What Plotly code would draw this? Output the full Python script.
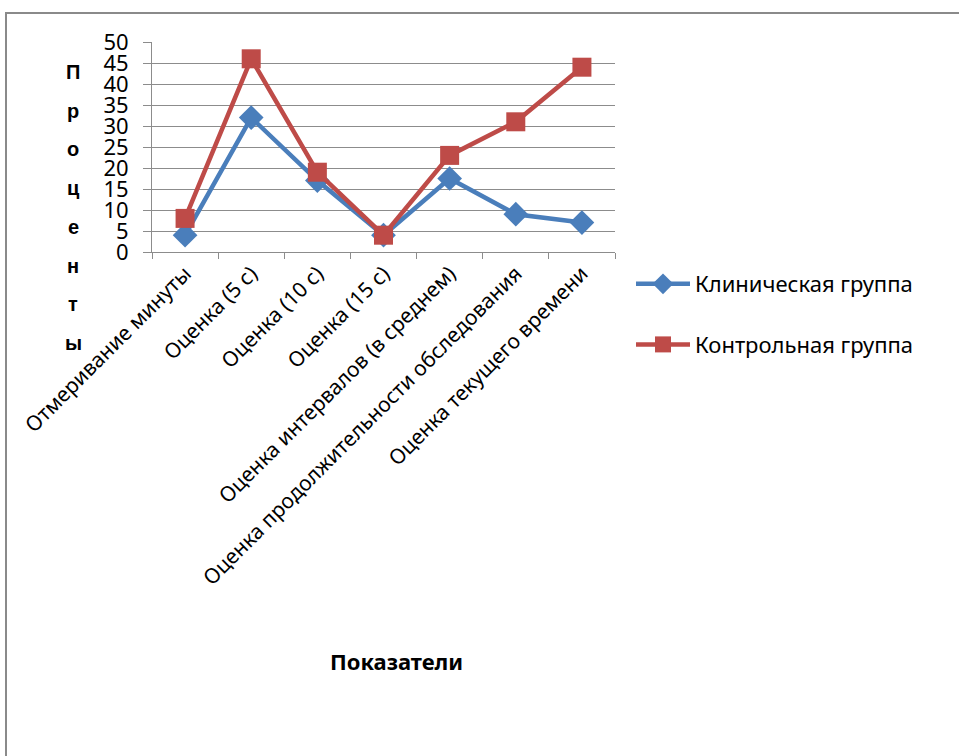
import plotly.graph_objects as go

categories = [
    "Отмеривание минуты",
    "Оценка (5 с)",
    "Оценка (10 с)",
    "Оценка (15 с)",
    "Оценка интервалов (в среднем)",
    "Оценка продолжительности обследования",
    "Оценка текущего времени",
]
clinical = [4, 32, 17, 4, 17.5, 9, 7]
control = [8, 46, 19, 4, 23, 31, 44]
series_names = ["Клиническая группа", "Контрольная группа"]
y_ticks = list(range(0, 55, 5))
y_title = "Проценты"
x_title = "Показатели"

BLUE = "#4A7EBB"
RED = "#BE4B48"
GRID = "#8C8C8C"
FONT = "Noto Sans"

W, H = 959, 756
L, R, T, B = 152, 615, 42, 252

fig = go.Figure()
fig.add_trace(go.Scatter(
    x=categories, y=clinical, name=series_names[0], mode="lines+markers",
    line=dict(color=BLUE, width=4.5),
    marker=dict(symbol="diamond", size=19, color=BLUE),
    legendgroup="a",
))
fig.add_trace(go.Scatter(
    x=categories, y=control, name=series_names[1], mode="lines+markers",
    line=dict(color=RED, width=4.5),
    marker=dict(symbol="square", size=19, color=RED),
    legendgroup="b",
))

fig.update_layout(
    width=W, height=H,
    margin=dict(l=L, r=W - R, t=T, b=H - B),
    paper_bgcolor="white", plot_bgcolor="white",
    font=dict(family=FONT, color="black"),
    showlegend=True,
    legend=dict(
        x=(631 - L) / (R - L), y=(B - 263) / (B - T),
        xanchor="left", yanchor="top",
        font=dict(size=22, family=FONT),
        itemwidth=54, tracegroupgap=29,
        traceorder="grouped",
        bgcolor="rgba(0,0,0,0)",
    ),
    xaxis=dict(
        type="category", tickangle=-45, tickson="boundaries",
        ticks="outside", ticklen=6, tickcolor=GRID,
        showline=True, linecolor=GRID, linewidth=1,
        showgrid=False, tickfont=dict(size=21, family=FONT),
        range=[-0.5, len(categories) - 0.5],
    ),
    yaxis=dict(
        range=[0, 50], tickvals=y_ticks, ticktext=[str(v) for v in y_ticks],
        ticks="outside", ticklen=8, tickcolor=GRID,
        showline=True, linecolor=GRID, linewidth=1,
        showgrid=True, gridcolor=GRID, gridwidth=1,
        tickfont=dict(size=22, family=FONT), zeroline=False,
        ticklabelstandoff=10,
    ),
)

# vertical axis title, one letter per row
for i, ch in enumerate(y_title):
    fig.add_annotation(
        text=f"<b>{ch}</b>", xref="paper", yref="paper",
        x=(73 - L) / (R - L), y=(B - (72 + i * 38.7)) / (B - T),
        showarrow=False, xanchor="center", yanchor="middle",
        font=dict(size=20, family="Liberation Sans", color="black"),
    )

fig.add_annotation(
    text=f"<b>{x_title}</b>", xref="paper", yref="paper",
    x=(396 - L) / (R - L), y=(B - 661) / (B - T),
    showarrow=False, xanchor="center", yanchor="middle",
    font=dict(size=22, family=FONT, color="black"),
)

# outer frame of the chart area
fig.add_shape(
    type="rect", xref="paper", yref="paper",
    x0=(6 - L) / (R - L), x1=(W + 5 - L) / (R - L),
    y0=(B - (H + 5)) / (B - T), y1=(B - 13) / (B - T),
    line=dict(color="#8A8A8A", width=2), layer="below",
)

fig.write_html("out.html")
